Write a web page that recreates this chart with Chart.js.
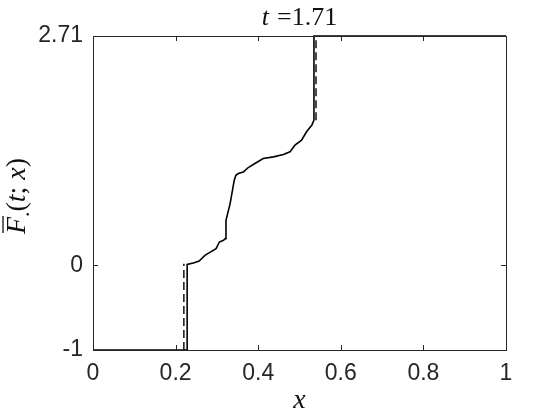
<!DOCTYPE html>
<html>
<head>
<meta charset="utf-8">
<script src="https://cdn.jsdelivr.net/npm/chart.js@4/dist/chart.umd.min.js"></script>
<style>
  html,body{margin:0;padding:0;background:#fff;}
  #wrap{width:560px;height:420px;position:relative;}
</style>
</head>
<body>
<div id="wrap"><canvas id="c"></canvas></div>
<script>
// values
const xTicks = [0, 0.2, 0.4, 0.6, 0.8, 1];
const yTicks = [-1, 0, 2.71];

// solid step/curve
const solidX = [0, 0.228, 0.228, 0.243, 0.257, 0.271, 0.283, 0.298, 0.306, 0.316, 0.320, 0.322, 0.332, 0.342, 0.346,
                0.352, 0.364, 0.376, 0.392, 0.412, 0.437, 0.461, 0.477, 0.489, 0.505, 0.517, 0.530, 0.535, 0.535, 1];
const solidY = [-1, -1, 0.012, 0.027, 0.051, 0.118, 0.154, 0.198, 0.276, 0.296, 0.316, 0.533, 0.730, 1.006, 1.065,
                1.085, 1.104, 1.156, 1.204, 1.263, 1.282, 1.310, 1.341, 1.420, 1.479, 1.578, 1.657, 1.716, 2.71, 2.71];

// dashed jumps
const dashLowX = [0.220, 0.220];
const dashLowY = [-1, 0.02];
const dashHighX = [0.540, 0.540];
const dashHighY = [1.716, 2.71];

const titleT = 't', titleRest = '=1.71';
const xLabel = 'x';

const ink = '#262626';
const pts = (xs, ys) => xs.map((x, i) => ({x, y: ys[i]}));

// box + inward ticks (matlab style) and the math-ish labels
const decor = {
  id: 'decor',
  afterDatasetsDraw(chart){
    const {ctx, chartArea: a, scales} = chart;
    ctx.save();
    ctx.strokeStyle = ink; ctx.lineWidth = 1;
    ctx.strokeRect(Math.round(a.left)+0.5, Math.round(a.top)+0.5, Math.round(a.right-a.left), Math.round(a.bottom-a.top));
    const tl = 5;
    ctx.beginPath();
    xTicks.forEach(v=>{
      const px = Math.round(scales.x.getPixelForValue(v))+0.5;
      ctx.moveTo(px, a.bottom); ctx.lineTo(px, a.bottom-tl);
      ctx.moveTo(px, a.top); ctx.lineTo(px, a.top+tl);
    });
    yTicks.forEach(v=>{
      const py = Math.round(scales.y.getPixelForValue(v))+0.5;
      ctx.moveTo(a.left, py); ctx.lineTo(a.left+tl, py);
      ctx.moveTo(a.right, py); ctx.lineTo(a.right-tl, py);
    });
    ctx.stroke();

    ctx.fillStyle = '#111';
    ctx.textBaseline = 'alphabetic';
    const cx = (a.left + a.right)/2;
    // title
    ctx.font = 'italic 26px "Liberation Serif"';
    const wT = ctx.measureText(titleT).width;
    ctx.font = '26px "Liberation Serif"';
    const wR = ctx.measureText(titleRest).width;
    const gap = 8;
    let x0 = cx - (wT+gap+wR)/2;
    ctx.font = 'italic 26px "Liberation Serif"';
    ctx.textAlign = 'left';
    ctx.fillText(titleT, x0, 25);
    ctx.font = '26px "Liberation Serif"';
    ctx.fillText(titleRest, x0+wT+gap, 25);

    // x label
    ctx.font = 'italic 28px "Liberation Serif"';
    ctx.textAlign = 'center';
    ctx.fillText(xLabel, cx, 408);

    // y label, rotated
    const cy = (a.top + a.bottom)/2 + 3;
    ctx.translate(25, cy);
    ctx.rotate(-Math.PI/2);
    const parts = [
      {t:'F', f:'italic 28px "Liberation Serif"'},
      {t:'.', f:'22px "Liberation Serif"', dy:4},
      {t:'(', f:'28px "Liberation Serif"'},
      {t:'t', f:'italic 28px "Liberation Serif"'},
      {t:'; ', f:'28px "Liberation Serif"'},
      {t:'x', f:'italic 28px "Liberation Serif"'},
      {t:')', f:'28px "Liberation Serif"'}
    ];
    let tw = 0;
    parts.forEach(p=>{ ctx.font = p.f; p.w = ctx.measureText(p.t).width; tw += p.w; });
    let px = -tw/2;
    ctx.textAlign = 'left';
    parts.forEach((p, i)=>{
      ctx.font = p.f;
      ctx.fillText(p.t, px, p.dy || 0);
      if(i===0){
        ctx.beginPath(); ctx.lineWidth = 1.3; ctx.strokeStyle = '#111';
        ctx.moveTo(px+1, -22); ctx.lineTo(px+p.w+1, -22); ctx.stroke();
      }
      px += p.w;
    });
    ctx.restore();
  }
};

new Chart(document.getElementById('c'), {
  type: 'scatter',
  data: {
    datasets: [
      {data: pts(solidX, solidY), showLine: true, borderColor: '#000', borderWidth: 1.6, pointRadius: 0, clip: 4},
      {data: pts(dashLowX, dashLowY), showLine: true, borderColor: '#111', borderWidth: 1.5, borderDash: [8, 4], pointRadius: 0, clip: 4},
      {data: pts(dashHighX, dashHighY), showLine: true, borderColor: '#111', borderWidth: 1.5, borderDash: [8, 4], pointRadius: 0, clip: 4}
    ]
  },
  options: {
    responsive: true, maintainAspectRatio: false, animation: false,
    devicePixelRatio: 1,
    layout: {padding: {left: 0, right: 54, top: 36, bottom: 0}},
    plugins: {legend: {display: false}, tooltip: {enabled: false}, title: {display: false}},
    scales: {
      x: {
        type: 'linear', min: 0, max: 1,
        afterBuildTicks: s => { s.ticks = xTicks.map(v => ({value: v})); },
        afterFit: s => { s.height = 70; },
        grid: {display: false, drawTicks: false},
        border: {display: false},
        ticks: {padding: 10, color: ink, font: {family: '"Liberation Sans", Arial', size: 23}, callback: v => String(v), maxRotation: 0}
      },
      y: {
        type: 'linear', min: -1, max: 2.71,
        afterBuildTicks: s => { s.ticks = yTicks.map(v => ({value: v})); },
        afterFit: s => { s.width = 93; },
        grid: {display: false, drawTicks: false},
        border: {display: false},
        ticks: {padding: 10, color: ink, font: {family: '"Liberation Sans", Arial', size: 23}, callback: v => String(v)}
      }
    }
  },
  plugins: [decor]
});
</script>
</body>
</html>
